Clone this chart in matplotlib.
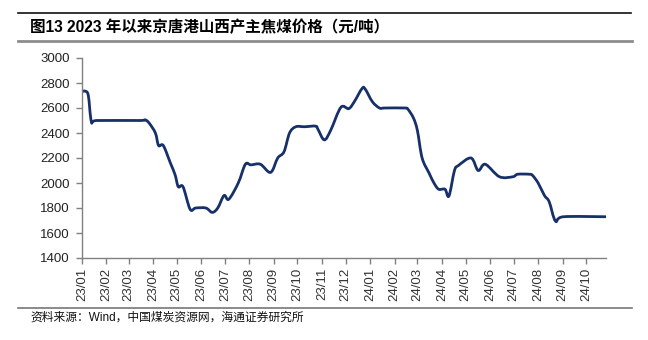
import matplotlib
matplotlib.use("Agg")
import matplotlib.pyplot as plt
import matplotlib.dates as mdates
from matplotlib.path import Path
from matplotlib.patches import PathPatch
from matplotlib.lines import Line2D
import numpy as np
import datetime as dt

plt.rcParams['font.family'] = ['Liberation Sans', 'Noto Sans CJK SC', 'DejaVu Sans']

dates = [
    "2023-01-01", "2023-01-05", "2023-01-09", "2023-01-13", "2023-01-20",
    "2023-03-15", "2023-03-22", "2023-03-27", "2023-04-04", "2023-04-08",
    "2023-04-14", "2023-04-23", "2023-04-29", "2023-05-03", "2023-05-09",
    "2023-05-18", "2023-05-25", "2023-06-07", "2023-06-15", "2023-06-22",
    "2023-06-30", "2023-07-06", "2023-07-18", "2023-07-27", "2023-08-03",
    "2023-08-15", "2023-08-28", "2023-09-06", "2023-09-14", "2023-09-21",
    "2023-09-29", "2023-10-10", "2023-10-24", "2023-10-27", "2023-11-04",
    "2023-11-12", "2023-11-25", "2023-12-05", "2023-12-12", "2023-12-22",
    "2023-12-26", "2024-01-04", "2024-01-13", "2024-01-20", "2024-02-14",
    "2024-02-18", "2024-02-25", "2024-03-01", "2024-03-07", "2024-03-16",
    "2024-03-22", "2024-03-28", "2024-04-05", "2024-04-10", "2024-04-17",
    "2024-04-22", "2024-05-08", "2024-05-17", "2024-05-26", "2024-06-13",
    "2024-06-30", "2024-07-06", "2024-07-21", "2024-07-25", "2024-08-01",
    "2024-08-09", "2024-08-15", "2024-08-23", "2024-09-02", "2024-10-26",
]
prices = [
    2730, 2735, 2700, 2490, 2500,
    2500, 2505, 2480, 2400, 2300,
    2300, 2160, 2065, 1970, 1970,
    1790, 1800, 1800, 1765, 1800,
    1900, 1870, 2000, 2150, 2145,
    2150, 2085, 2200, 2250, 2400,
    2450, 2450, 2455, 2430, 2345,
    2420, 2605, 2595, 2650, 2757,
    2750, 2650, 2600, 2600, 2600,
    2590, 2520, 2420, 2200, 2077,
    2000, 1950, 1950, 1896, 2100,
    2140, 2200, 2100, 2150, 2050,
    2050, 2070, 2070, 2060, 2000,
    1900, 1850, 1695, 1730, 1730,
]
tick_months = [f"{y}-{m:02d}-01" for y in (2023, 2024) for m in range(1, 13)][:22]

title = "图13 2023 年以来京唐港山西产主焦煤价格（元/吨）"
source = "资料来源：Wind，中国煤炭资源网，海通证券研究所"

fig = plt.figure(figsize=(6.48, 3.40), dpi=100)
ax = fig.add_axes([82/648, 1-258/340, (606-82)/648, 200/340])

x = mdates.date2num([dt.datetime.strptime(d, "%Y-%m-%d") for d in dates])
y = np.array(prices, dtype=float)

# smoothed (Catmull-Rom style Bezier) rendering like a spreadsheet "smooth line"
verts = [(x[0], y[0])]
codes = [Path.MOVETO]
n = len(x)
for i in range(n - 1):
    p0 = np.array([x[max(i-1, 0)], y[max(i-1, 0)]])
    p1 = np.array([x[i], y[i]])
    p2 = np.array([x[i+1], y[i+1]])
    p3 = np.array([x[min(i+2, n-1)], y[min(i+2, n-1)]])
    c1 = p1 + (p2 - p0) / 6.0
    c2 = p2 - (p3 - p1) / 6.0
    verts += [tuple(c1), tuple(c2), tuple(p2)]
    codes += [Path.CURVE4] * 3
patch = PathPatch(Path(verts, codes), facecolor='none', edgecolor='#17306a',
                  linewidth=2.0, capstyle='round', joinstyle='round')
ax.add_patch(patch)

ax.set_xlim(mdates.date2num(dt.datetime(2023, 1, 1)), mdates.date2num(dt.datetime(2024, 10, 26)))
ax.set_ylim(1400, 3000)
ax.set_yticks(np.arange(1400, 3001, 200))
ticks = mdates.date2num([dt.datetime.strptime(d, "%Y-%m-%d") for d in tick_months])
ax.set_xticks(ticks)
ax.set_xticklabels([dt.datetime.strptime(d, "%Y-%m-%d").strftime("%y/%m") for d in tick_months],
                   rotation=90, fontsize=9.5, color='#333333')
ax.tick_params(axis='y', labelsize=9.5, colors='#808080', labelcolor='#222222', length=4, width=1, pad=5)
ax.tick_params(axis='x', colors='#808080', labelcolor='#333333', length=4, width=1, pad=3)
for s in ('top', 'right'):
    ax.spines[s].set_visible(False)
for s in ('left', 'bottom'):
    ax.spines[s].set_color('#808080')
    ax.spines[s].set_linewidth(1.0)

fig.add_artist(Line2D([18/648, 631/648], [1-13/340, 1-13/340], color='#111111', lw=1.2))
fig.add_artist(Line2D([18/648, 632/648], [1-41/340, 1-41/340], color='#8c8c8c', lw=2.0))
fig.add_artist(Line2D([18/648, 632/648], [1-308/340, 1-308/340], color='#777777', lw=1.2))

fig.text(30/648, 1-27/340, title, fontsize=11.2, fontweight='bold', va='center', ha='left',
         family=['Liberation Sans', 'Noto Sans CJK SC'])
fig.text(30/648, 1-318/340, source, fontsize=8.5, va='center', ha='left',
         family=['Liberation Sans', 'Noto Sans CJK SC'], color='#111111')

fig.savefig("out.png", dpi=100)
